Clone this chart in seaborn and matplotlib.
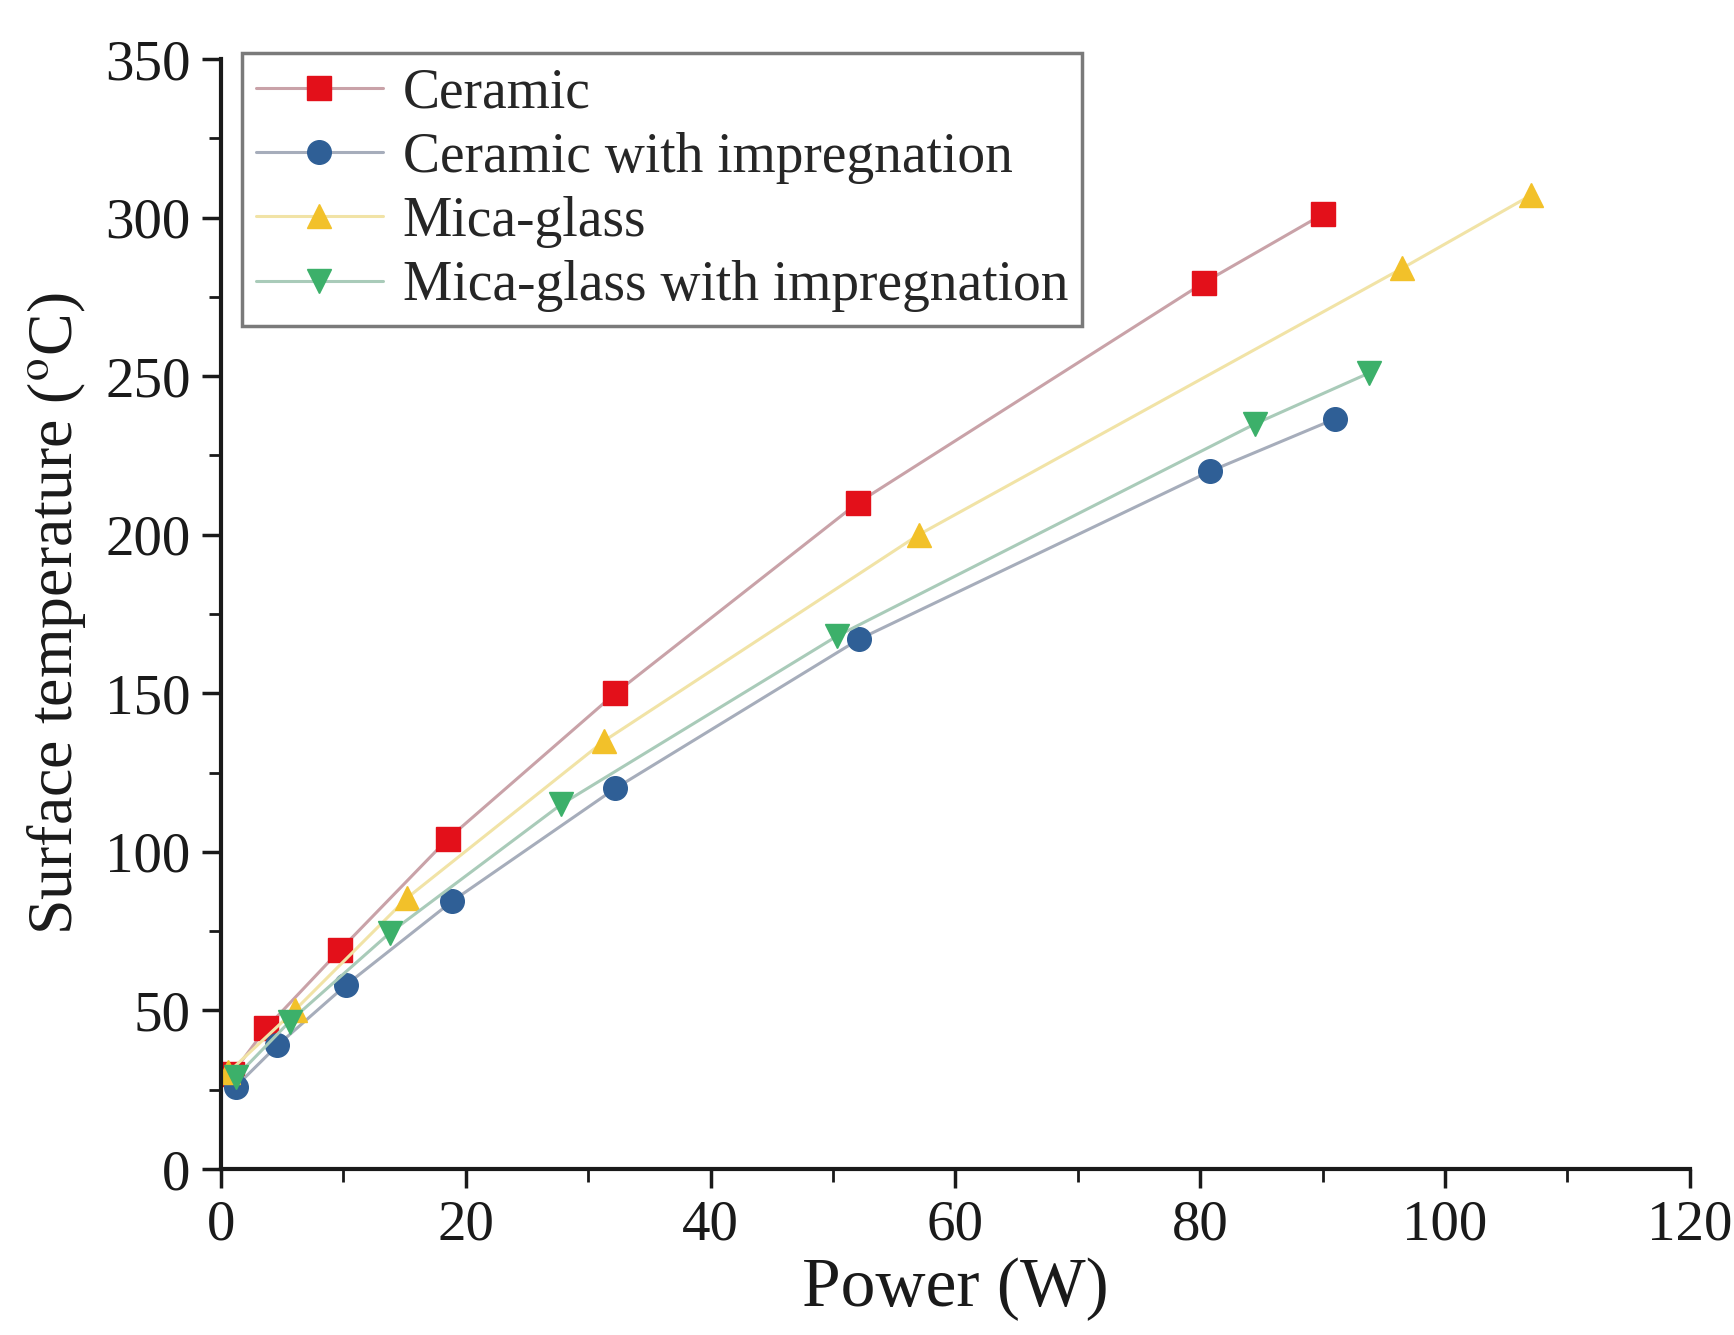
import matplotlib
matplotlib.use("Agg")
import matplotlib.pyplot as plt
import seaborn as sns
import pandas as pd
from matplotlib.ticker import MultipleLocator

sns.set_style("ticks")
plt.rcParams['font.family'] = ['Liberation Serif', 'DejaVu Serif']
plt.rcParams['mathtext.fontset'] = 'stix'

series_names = ["Ceramic", "Ceramic with impregnation", "Mica-glass", "Mica-glass with impregnation"]

ceramic_x = [0.9, 3.7, 9.7, 18.5, 32.2, 52.0, 80.3, 90.0]
ceramic_y = [30, 44.5, 69, 104, 150, 210, 279.5, 301]

ceramic_imp_x = [1.2, 4.6, 10.2, 18.9, 32.2, 52.1, 80.8, 91.0]
ceramic_imp_y = [26, 39, 58, 84.5, 120, 167, 220, 236.5]

mica_x = [0.6, 6.0, 15.2, 31.3, 57.0, 96.5, 107.0]
mica_y = [30.5, 50, 85.5, 135, 200, 284, 307]

mica_imp_x = [1.2, 5.6, 13.8, 27.8, 50.3, 84.5, 93.8]
mica_imp_y = [29, 46.5, 74.5, 115, 168, 235, 251]

xs = [ceramic_x, ceramic_imp_x, mica_x, mica_imp_x]
ys = [ceramic_y, ceramic_imp_y, mica_y, mica_imp_y]
markers = ["s", "o", "^", "v"]
marker_colors = ["#e3101a", "#2f5f96", "#f2c12a", "#3cb06a"]
line_colors = ["#c9a2a8", "#a6adbb", "#f1e3a6", "#a9cbb9"]

fig = plt.figure(figsize=(17.34, 13.35), dpi=100)
ax = fig.add_axes([0.1275, 0.1243, 0.847, 0.8315])

for name, x, y, m, mc, lc in zip(series_names, xs, ys, markers, marker_colors, line_colors):
    df = pd.DataFrame({"x": x, "y": y})
    sns.lineplot(data=df, x="x", y="y", ax=ax, sort=False, color=lc, linewidth=2.2,
                 marker=m, markersize=17, markerfacecolor=mc, markeredgecolor=mc,
                 markeredgewidth=1, label=name)

ax.set_xlim(0, 120)
ax.set_ylim(0, 350)
ax.xaxis.set_major_locator(MultipleLocator(20))
ax.xaxis.set_minor_locator(MultipleLocator(10))
ax.yaxis.set_major_locator(MultipleLocator(50))
ax.yaxis.set_minor_locator(MultipleLocator(25))

for s in ["top", "right"]:
    ax.spines[s].set_visible(False)
for s in ["left", "bottom"]:
    ax.spines[s].set_linewidth(3)
    ax.spines[s].set_color("#1a1a1a")

ax.tick_params(axis="both", which="major", direction="out", length=14, width=2.5,
               labelsize=41, colors="#1a1a1a", pad=8)
ax.tick_params(axis="both", which="minor", direction="out", length=9, width=2, colors="#1a1a1a")

ax.set_xlabel("Power (W)", fontsize=50, labelpad=4, color="#1a1a1a")
ax.set_ylabel("Surface temperature ($^{\\rm o}$C)", fontsize=46, labelpad=12, color="#1a1a1a")

leg = ax.legend(loc="upper left", bbox_to_anchor=(0.014, 1.005), fontsize=40, frameon=True,
                fancybox=False, edgecolor="#7a7a7a", framealpha=1, borderpad=0.25,
                labelspacing=0.22, handlelength=2.3, handletextpad=0.35, borderaxespad=0)
leg.get_frame().set_linewidth(2.5)

fig.savefig("out.png", dpi=100, facecolor="white")
